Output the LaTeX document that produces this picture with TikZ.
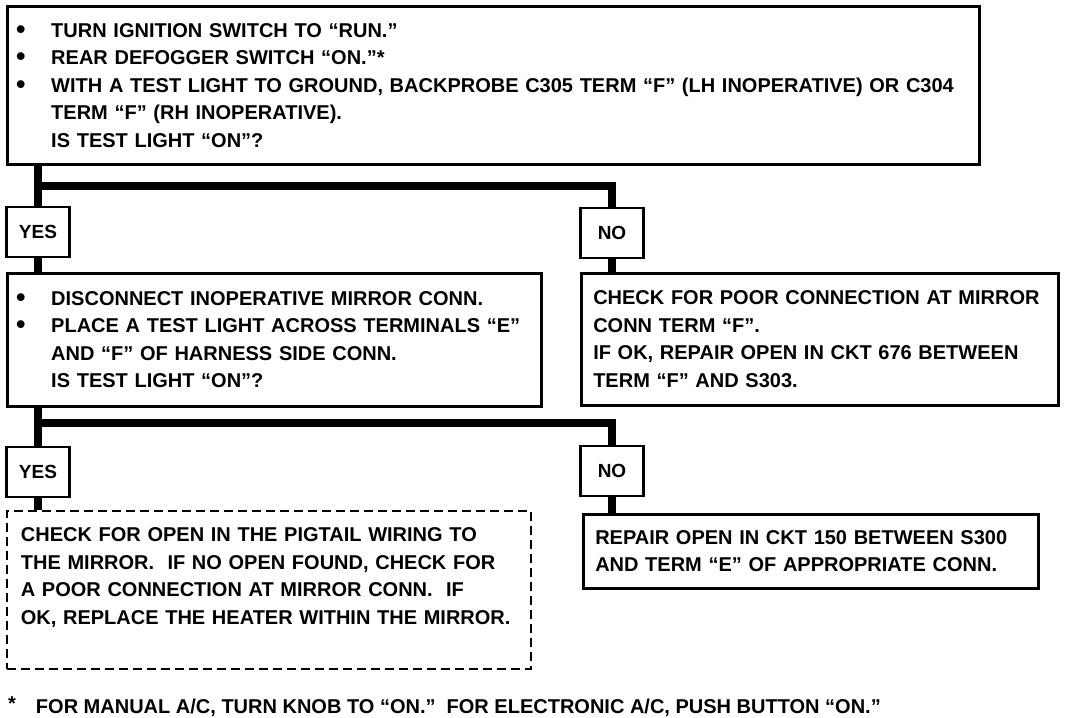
\documentclass[tikz,border=0pt]{standalone}
\usepackage{fontspec}
\setmainfont{Liberation Sans}
\newcommand{\bul}{\makebox[35pt][l]{\raisebox{-1pt}{\scalebox{1.35}{•}}}}
\newcommand{\ind}{\hspace*{35pt}}
\tikzset{
  box/.style={draw, line width=2.5pt, rectangle, anchor=north west, align=left,
    inner ysep=0pt, font=\fontsize{20}{27.5}\selectfont\bfseries},
  dbox/.style={box, line width=1.8pt, dash pattern=on 9pt off 5pt},
  ans/.style={draw, line width=2.5pt, rectangle, inner sep=0pt, minimum width=63pt,
    minimum height=50pt, font=\fontsize{19}{22}\selectfont\bfseries},
  flow/.style={line width=7.5pt, line join=miter},
  note/.style={anchor=base west, inner sep=0pt, font=\fontsize{20}{22}\selectfont\bfseries}
}
\begin{document}
\begin{tikzpicture}[x=1pt,y=-1pt]
\useasboundingbox (0,0) rectangle (1072,718);
\node[box, text width=954pt, inner xsep=9pt, minimum height=158pt] (q1) at (6,5)
 {\bul TURN IGNITION SWITCH TO “RUN.”\\
  \bul REAR DEFOGGER SWITCH “ON.”*\\
  \bul WITH A TEST LIGHT TO GROUND, BACKPROBE C305 TERM “F” (LH INOPERATIVE) OR C304\\
  \ind TERM “F” (RH INOPERATIVE).\\
  \ind IS TEST LIGHT “ON”?};
\node[ans] (yes1) at (38,232) {YES};
\node[ans] (no1) at (612,233) {NO};
\node[box, text width=516pt, inner xsep=9pt, minimum height=133pt] (q2) at (6,272)
 {\bul DISCONNECT INOPERATIVE MIRROR CONN.\\
  \bul PLACE A TEST LIGHT ACROSS TERMINALS “E”\\
  \ind AND “F” OF HARNESS SIDE CONN.\\
  \ind IS TEST LIGHT “ON”?};
\node[box, text width=453pt, inner xsep=12pt, minimum height=132pt] (r1) at (580,272)
 {CHECK FOR POOR CONNECTION AT MIRROR\\
  CONN TERM “F”.\\
  IF OK, REPAIR OPEN IN CKT 676 BETWEEN\\
  TERM “F” AND S303.};
\node[ans] (yes2) at (38,472) {YES};
\node[ans] (no2) at (612,471) {NO};
\node[dbox, text width=496pt, inner xsep=14pt, minimum height=158pt] (r2) at (6,510)
 {CHECK FOR OPEN IN THE PIGTAIL WIRING TO\\
  THE MIRROR.\ \ IF NO OPEN FOUND, CHECK FOR\\
  A POOR CONNECTION AT MIRROR CONN.\ \ IF\\
  OK, REPLACE THE HEATER WITHIN THE MIRROR.\\
  \mbox{}};
\node[box, text width=431pt, inner xsep=12pt, minimum height=74pt] (r3) at (582,513)
 {REPAIR OPEN IN CKT 150 BETWEEN S300\\
  AND TERM “E” OF APPROPRIATE CONN.};
\node[note] (fn) at (8,713) {\raisebox{3pt}{*}\hspace{20pt}FOR MANUAL A/C, TURN KNOB TO “ON.”\ \ FOR ELECTRONIC A/C, PUSH BUTTON “ON.”};
\coordinate (j1) at (38,186);
\coordinate (j2) at (38,423);
\draw[flow] (q1.south -| yes1.north) -- (yes1.north);
\draw[flow] (j1) -| (no1.north);
\draw[flow] (yes1.south) -- (yes1.south |- q2.north);
\draw[flow] (no1.south) -- (no1.south |- r1.north);
\draw[flow] (q2.south -| yes2.north) -- (yes2.north);
\draw[flow] (j2) -| (no2.north);
\draw[flow] (yes2.south) -- (yes2.south |- r2.north);
\draw[flow] (no2.south) -- (no2.south |- r3.north);
\end{tikzpicture}
\end{document}
